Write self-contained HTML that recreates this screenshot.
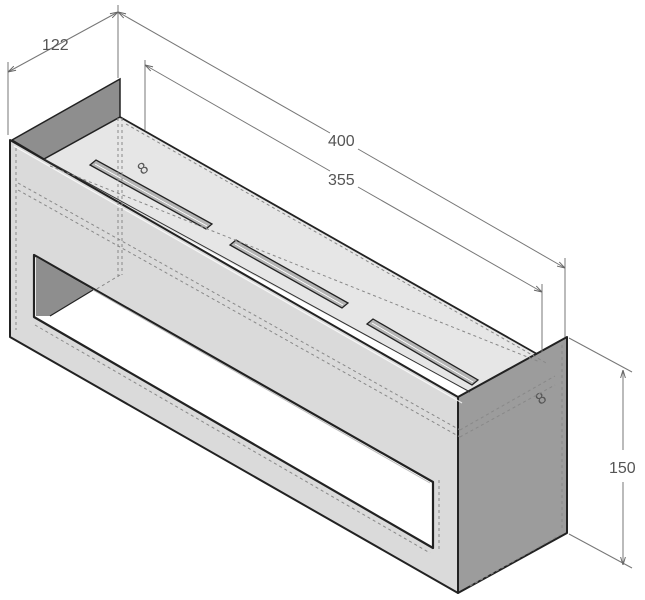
<!DOCTYPE html>
<html><head><meta charset="utf-8"><style>
html,body{margin:0;padding:0;background:#fff;}
svg{display:block;}
text{font-family:"Liberation Sans",sans-serif;font-size:16px;fill:#555;}
</style></head><body>
<svg width="645" height="600" viewBox="0 0 645 600" xmlns="http://www.w3.org/2000/svg">
<defs>
<marker id="a" viewBox="0 0 10 10" refX="10" refY="5" markerWidth="8" markerHeight="8" orient="auto-start-reverse"><path d="M0,2 L10,5 L0,8" fill="none" stroke="#666" stroke-width="1.2"/></marker>
</defs>
<polygon points="40,160 120,117 537,354 470,392" fill="#e6e6e6"/>
<polygon points="12,140 120,79 120,117 44,159" fill="#8e8e8e" stroke="#222" stroke-width="1.5"/>
<polygon points="10,140 458,397 458,593 10,337" fill="#dadada" stroke="#222" stroke-width="2" stroke-linejoin="round"/>
<polygon points="458,397 567,337 567,533 458,593" fill="#9c9c9c" stroke="#222" stroke-width="2" stroke-linejoin="round"/>
<line x1="120" y1="117" x2="537" y2="354" stroke="#222" stroke-width="1.8"/>
<line x1="14" y1="146" x2="462" y2="403" stroke="#fff" stroke-width="1.2" opacity="0.8"/>
<line x1="44" y1="159" x2="470" y2="392" stroke="#333" stroke-width="1"/>
<polygon points="34,255 433,482 433,548 34,317" fill="#fff" stroke="#222" stroke-width="2.2" stroke-linejoin="round"/>
<polygon points="36,257 93,290 50,316 36,316" fill="#8e8e8e"/>
<line x1="93" y1="290" x2="50" y2="316" stroke="#222" stroke-width="1.2"/>
<line x1="93" y1="290" x2="430" y2="483" stroke="#bbb" stroke-width="1"/>
<g fill="#b5b5b5" stroke="#222" stroke-width="1.3">
<polygon points="90,165 96,160 212,224 206,229"/>
<polygon points="230,245 236,240 348,303 342,308"/>
<polygon points="367,324 373,319 478,380 472,385"/>
</g>
<g stroke="#fff" stroke-width="0.8">
<line x1="95" y1="164" x2="207" y2="226"/>
<line x1="235" y1="244" x2="343" y2="305"/>
<line x1="372" y1="323" x2="473" y2="382"/>
</g>
<text x="140" y="176" font-size="11" transform="rotate(-35 140 172)">8</text>
<text x="538" y="406" font-size="11" transform="rotate(-35 538 402)">8</text>
<g stroke="#888" stroke-width="1" stroke-dasharray="3,3" fill="none">
<line x1="118" y1="118" x2="118" y2="278"/><line x1="122" y1="118" x2="122" y2="275"/>
<line x1="16" y1="148" x2="16" y2="330"/>
<line x1="18" y1="183" x2="460" y2="430"/><line x1="18" y1="190" x2="460" y2="437"/>
<line x1="50" y1="166" x2="540" y2="362"/>
<line x1="460" y1="430" x2="555" y2="376"/>
<line x1="460" y1="437" x2="555" y2="385"/>
<line x1="562" y1="345" x2="562" y2="528"/>
<line x1="470" y1="586" x2="560" y2="535"/>
<line x1="35" y1="325" x2="430" y2="553"/>
<line x1="439" y1="480" x2="439" y2="550"/>
<line x1="120" y1="275" x2="95" y2="290"/>
<line x1="126" y1="124" x2="548" y2="364"/>
</g>
<g stroke="#777" stroke-width="1" fill="none">
<line x1="8" y1="62" x2="8" y2="135"/>
<line x1="118" y1="5" x2="118" y2="78"/>
<line x1="8" y1="72" x2="118" y2="12" marker-start="url(#a)" marker-end="url(#a)"/>
<line x1="565" y1="258" x2="565" y2="337"/>
<line x1="118" y1="12" x2="330" y2="133" marker-start="url(#a)"/>
<line x1="358" y1="149" x2="565" y2="268" marker-end="url(#a)"/>
<line x1="145" y1="60" x2="145" y2="130"/>
<line x1="542" y1="284" x2="542" y2="352"/>
<line x1="145" y1="65" x2="330" y2="171" marker-start="url(#a)"/>
<line x1="358" y1="187" x2="542" y2="292" marker-end="url(#a)"/>
<line x1="569" y1="338" x2="632" y2="372"/>
<line x1="569" y1="534" x2="632" y2="568"/>
<line x1="623" y1="370" x2="623" y2="450" marker-start="url(#a)"/>
<line x1="623" y1="482" x2="623" y2="565" marker-end="url(#a)"/>
</g>
<text x="42" y="50">122</text>
<text x="328" y="146">400</text>
<text x="328" y="185">355</text>
<text x="609" y="473">150</text>
</svg>
</body></html>
